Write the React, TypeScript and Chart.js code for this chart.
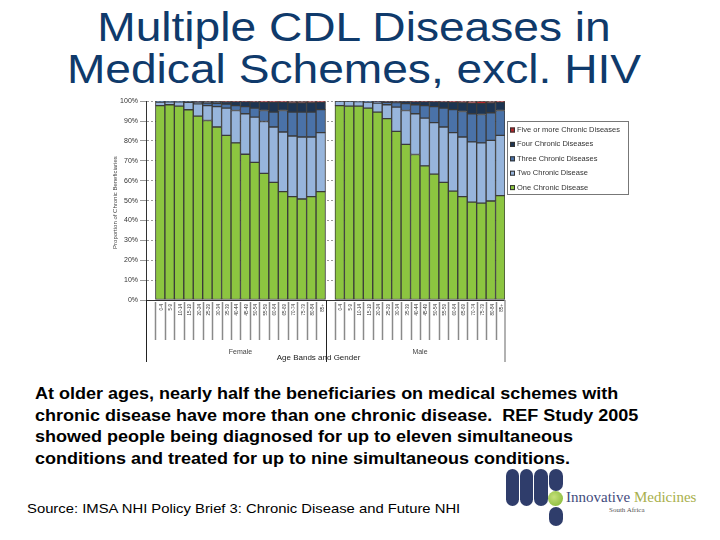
import React, { useEffect, useRef } from "react";
import { Chart, registerables } from "chart.js";

Chart.register(...registerables);

const ageBands = ["0-4", "5-9", "10-14", "15-19", "20-24", "25-29", "30-34", "35-39", "40-44", "45-49", "50-54", "55-59", "60-64", "65-69", "70-74", "75-79", "80-84", "85+"];
const genders = ["Female", "Male"];
const yTicks = [0, 10, 20, 30, 40, 50, 60, 70, 80, 90, 100];

const seriesNames = ["One Chronic Disease", "Two Chronic Disease", "Three Chronic Diseases", "Four Chronic Diseases", "Five or more Chronic Diseases"];
const seriesColors = ["#8cc540", "#97b5dc", "#4a72a8", "#1d3452", "#b3262b"];

const femaleOne = [97.8, 98.2, 97.5, 95.7, 92.5, 90.3, 87.0, 82.8, 79.0, 73.3, 69.2, 63.7, 59.2, 54.5, 52.0, 50.8, 52.0, 54.5];
const femaleTwo = [1.8, 1.5, 2.2, 3.7, 6.2, 7.5, 10.3, 13.7, 16.3, 20.4, 22.8, 26.1, 27.8, 30.0, 30.5, 31.2, 30.0, 29.7];
const femaleThree = [0.3, 0.2, 0.2, 0.4, 0.8, 1.3, 1.6, 2.0, 2.5, 3.6, 4.5, 5.5, 7.5, 10.8, 12.0, 12.5, 12.5, 11.6];
const femaleFour = [0.1, 0.1, 0.1, 0.2, 0.4, 0.8, 1.0, 1.3, 2.0, 2.5, 3.2, 4.3, 5.0, 4.2, 4.7, 4.7, 4.8, 3.7];
const femaleFive = [0, 0, 0, 0, 0.1, 0.1, 0.1, 0.2, 0.2, 0.2, 0.3, 0.4, 0.5, 0.5, 0.8, 0.8, 0.7, 0.5];

const maleOne = [97.8, 97.5, 97.5, 96.5, 94.5, 91.2, 84.8, 78.3, 73.2, 67.5, 63.3, 59.2, 54.8, 52.0, 49.2, 48.7, 49.8, 52.5];
const maleTwo = [2.1, 2.4, 2.3, 3.1, 4.6, 7.0, 12.2, 17.0, 20.5, 24.0, 25.9, 27.8, 29.4, 30.0, 30.3, 30.3, 30.5, 30.3];
const maleThree = [0.1, 0.1, 0.2, 0.3, 0.5, 1.2, 2.3, 3.5, 4.5, 6.3, 8.1, 9.5, 11.6, 12.8, 14.2, 14.3, 13.9, 12.5];
const maleFour = [0, 0, 0, 0.1, 0.3, 0.5, 0.6, 1.1, 1.6, 2.0, 2.5, 3.2, 3.7, 4.5, 5.3, 5.5, 5.0, 4.2];
const maleFive = [0, 0, 0, 0, 0.1, 0.1, 0.1, 0.1, 0.2, 0.2, 0.2, 0.3, 0.5, 0.7, 1.0, 1.2, 0.8, 0.5];

const femaleSeries = [femaleOne, femaleTwo, femaleThree, femaleFour, femaleFive];
const maleSeries = [maleOne, maleTwo, maleThree, maleFour, maleFive];

const FONT = "'Liberation Sans', Arial, sans-serif";

function nz(v: number) {
  return v === 0 ? null : v;
}

const labels = ["", ...ageBands, "", ...ageBands];

const axisPlugin = {
  id: "excelAxis",
  afterDraw(chart: any) {
    const ctx = chart.ctx;
    const x = chart.scales.x;
    const area = chart.chartArea;
    const n = labels.length;
    const px = (i: number) => x.getPixelForValue(i);
    const step = px(1) - px(0);
    const bnd = (i: number) => px(i) - step / 2;
    ctx.save();
    ctx.strokeStyle = "#333";
    ctx.lineWidth = 1;
    ctx.beginPath();
    ctx.moveTo(area.left, area.bottom + 0.5);
    ctx.lineTo(area.right, area.bottom + 0.5);
    ctx.stroke();
    ctx.strokeStyle = "#8a8a8a";
    ctx.lineWidth = 1.5;
    for (let i = 1; i < n; i++) {
      if (i === 19) continue;
      const bx = Math.round(bnd(i)) + 0.5;
      ctx.beginPath();
      ctx.moveTo(bx, area.bottom + 2);
      ctx.lineTo(bx, area.bottom + 40);
      ctx.stroke();
    }
    ctx.strokeStyle = "#222";
    ctx.lineWidth = 1;
    [area.left, bnd(19)].forEach((bx: number) => {
      const xx = Math.round(bx) + 0.5;
      ctx.beginPath();
      ctx.moveTo(xx, area.bottom);
      ctx.lineTo(xx, area.bottom + 62);
      ctx.stroke();
    });
    ctx.strokeStyle = "#999";
    ctx.lineWidth = 1.5;
    ctx.beginPath();
    ctx.moveTo(area.right, area.bottom);
    ctx.lineTo(area.right, area.bottom + 62);
    ctx.stroke();
    ctx.fillStyle = "#333";
    ctx.font = `4.5px ${FONT}`;
    for (let i = 0; i < n; i++) {
      if (!labels[i]) continue;
      ctx.save();
      ctx.translate(px(i) + 1.5, area.bottom + 4);
      ctx.rotate(-Math.PI / 2);
      ctx.textAlign = "right";
      ctx.textBaseline = "middle";
      ctx.fillText(labels[i], 0, 0);
      ctx.restore();
    }
    ctx.fillStyle = "#444";
    ctx.font = `7px ${FONT}`;
    ctx.textAlign = "center";
    ctx.textBaseline = "middle";
    const fMid = (px(1) + px(18)) / 2;
    const mMid = (px(20) + px(37)) / 2;
    ctx.fillText(genders[0], fMid, area.bottom + 52);
    ctx.fillText(genders[1], mMid, area.bottom + 52);
    ctx.fillStyle = "#222";
    ctx.font = `8px ${FONT}`;
    ctx.fillText("Age Bands and Gender", (area.left + area.right) / 2 - 7, area.bottom + 58);
    ctx.save();
    ctx.translate(7, (area.top + area.bottom) / 2 + 2);
    ctx.rotate(-Math.PI / 2);
    ctx.font = `6px ${FONT}`;
    ctx.fillStyle = "#444";
    ctx.fillText("Proportion of Chronic Beneficiaries", 0, 0);
    ctx.restore();
    const lx = 399, ly = 26, lw = 121, lh = 73;
    ctx.fillStyle = "#fff";
    ctx.fillRect(lx, ly, lw, lh);
    ctx.strokeStyle = "#777";
    ctx.lineWidth = 1;
    ctx.strokeRect(lx + 0.5, ly + 0.5, lw, lh);
    ctx.font = `7.5px ${FONT}`;
    ctx.textAlign = "left";
    ctx.textBaseline = "middle";
    const ds = chart.data.datasets;
    for (let k = 0; k < ds.length; k++) {
      const d = ds[ds.length - 1 - k];
      const yy = ly + 9 + k * 14.4;
      ctx.fillStyle = d.backgroundColor;
      ctx.fillRect(lx + 3, yy - 2.5, 5, 5);
      ctx.strokeStyle = "#333";
      ctx.strokeRect(lx + 3.5, yy - 2, 4, 4);
      ctx.fillStyle = "#333";
      ctx.fillText(d.label, lx + 10, yy);
    }
    ctx.restore();
  },
};

function ChartBox() {
  const ref = useRef<HTMLCanvasElement | null>(null);
  useEffect(() => {
    if (!ref.current) return;
    const datasets = seriesNames.map((name, s) => ({
      label: name,
      data: [null, ...femaleSeries[s].map(nz), null, ...maleSeries[s].map(nz)],
      backgroundColor: seriesColors[s],
      borderColor: "#3a3a3a",
      borderWidth: 1,
      borderSkipped: false,
      barPercentage: 1,
      categoryPercentage: 1,
    }));
    const chart = new Chart(ref.current, {
      type: "bar",
      data: { labels, datasets: datasets as any },
      options: {
        animation: false,
        responsive: false,
        maintainAspectRatio: false,
        layout: { padding: { left: 0, top: 6, right: 133, bottom: 67 } },
        plugins: { legend: { display: false }, tooltip: { enabled: false }, title: { display: false } },
        scales: {
          x: { stacked: true, display: false },
          y: {
            stacked: true,
            min: 0,
            max: 100,
            afterFit: (s: any) => {
              s.width = 38;
            },
            afterBuildTicks: (s: any) => {
              s.ticks = yTicks.map((v) => ({ value: v }));
            },
            ticks: {
              callback: (v: any) => v + "%",
              font: { size: 7, family: FONT },
              color: "#333",
              padding: 2,
            },
            grid: { color: "#9a9a9a", tickLength: 6, lineWidth: 1 },
            border: { display: true, color: "#333", width: 1, dash: [2, 2] },
          },
        },
      },
      plugins: [axisPlugin],
    });
    return () => chart.destroy();
  }, []);
  return <canvas ref={ref} width={530} height={272} style={{ position: "absolute", left: 108, top: 95, width: 530, height: 272 }} />;
}

export default function App() {
  return (
    <div style={{ position: "fixed", left: 0, top: 0, width: 720, height: 540, background: "#fff", overflow: "hidden", fontFamily: FONT }}>
      <div style={{ position: "absolute", left: 0, top: 6, width: 708, textAlign: "center", fontSize: 41, lineHeight: "42px", color: "#0f3a6b", transform: "scaleX(1.125)", transformOrigin: "354px 0" }}>
        <div>Multiple CDL Diseases in</div>
        <div>Medical Schemes, excl. HIV</div>
      </div>
      <ChartBox />
      <div style={{ position: "absolute", left: 35, top: 383, width: 680, fontSize: 16, lineHeight: "21.7px", fontWeight: "bold", color: "#000", transform: "scaleX(1.125)", transformOrigin: "0 0", whiteSpace: "nowrap" }}>
        <div>At older ages, nearly half the beneficiaries on medical schemes with</div>
        <div>chronic disease have more than one chronic disease.&nbsp; REF Study 2005</div>
        <div>showed people being diagnosed for up to eleven simultaneous</div>
        <div>conditions and treated for up to nine simultaneous conditions.</div>
      </div>
      <div style={{ position: "absolute", left: 27, top: 501, fontSize: 13, lineHeight: "15px", color: "#000", whiteSpace: "nowrap", transform: "scaleX(1.14)", transformOrigin: "0 0" }}>
        Source: IMSA NHI Policy Brief 3: Chronic Disease and Future NHI
      </div>
      <div style={{ position: "absolute", left: 506, top: 469, width: 13, height: 37, borderRadius: 7, background: "#2f3d6b" }} />
      <div style={{ position: "absolute", left: 520, top: 469, width: 13, height: 37, borderRadius: 7, background: "#2f3d6b" }} />
      <div style={{ position: "absolute", left: 534, top: 469, width: 14, height: 37, borderRadius: 7, background: "#2f3d6b" }} />
      <div style={{ position: "absolute", left: 549, top: 469, width: 14, height: 22, borderRadius: 7, background: "#2f3d6b" }} />
      <div style={{ position: "absolute", left: 548, top: 491, width: 15, height: 15, borderRadius: 8, background: "radial-gradient(circle at 40% 40%, #c5e07a, #7fb42f)" }} />
      <div style={{ position: "absolute", left: 549, top: 507, width: 14, height: 19, borderRadius: 7, background: "#2f3d6b" }} />
      <div style={{ position: "absolute", left: 566, top: 488, fontFamily: "'Liberation Serif', 'DejaVu Serif', serif", fontSize: 15, lineHeight: "18px", whiteSpace: "nowrap" }}>
        <span style={{ color: "#3f4b7d" }}>Innovative </span>
        <span style={{ color: "#a9b04c" }}>Medicines</span>
      </div>
      <div style={{ position: "absolute", left: 609, top: 506, fontFamily: "'Liberation Serif', serif", fontSize: 7, lineHeight: "9px", color: "#555", whiteSpace: "nowrap" }}>
        South Africa
      </div>
    </div>
  );
}
